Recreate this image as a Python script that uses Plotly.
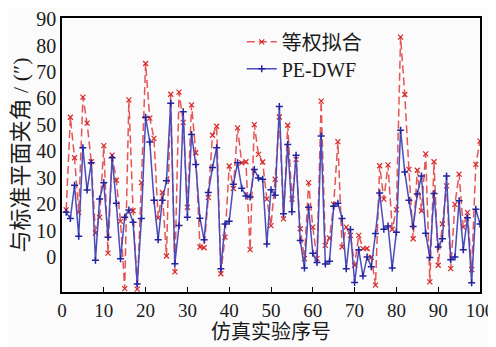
import plotly.graph_objects as go

runs = list(range(1, 101))

equal_weight = [
    17.9, 52.9, 37.6, 17.0, 60.5, 50.7, 36.1, 9.2, 15.1, 42.2,
    1.6, 38.6, 29.1, 13.6, -11.8, 59.5, 17.6, -12.0, 28.2, 73.2,
    52.6, 44.9, 14.9, 24.5, 0.5, 61.6, -5.5, 62.4, 51.0, 18.9,
    57.6, 39.5, 3.9, 3.6, 22.6, 46.1, 49.5, -6.2, 7.6, 34.5,
    26.0, 48.9, 35.7, 36.1, 2.9, 50.1, 38.9, 36.0, 22.0, 12.0,
    29.5, 53.0, 14.5, 49.9, 22.0, 37.0, 10.8, -0.5, 28.2, 11.4,
    -0.5, 59.0, 4.5, 7.3, 20.0, 43.7, 3.9, 11.4, 8.3, -3.0,
    8.3, 3.3, 3.4, 0.0, -10.5, 34.6, 22.0, 34.9, 10.6, 18.0,
    83.2, 61.5, 33.2, 7.0, 32.9, 17.6, 39.1, -9.3, 36.1, -3.0,
    12.6, 27.0, -4.3, 20.0, 31.4, 11.4, 17.0, -4.6, 35.1, 43.9,
]

pe_dwf = [
    17.0, 14.7, 27.2, 8.0, 41.4, 25.4, 35.7, -1.1, 22.0, 28.2,
    7.6, 37.6, 20.4, -0.5, 15.1, 17.9, 13.2, -10.1, 14.7, 52.9,
    43.6, 21.6, 6.6, 21.6, 28.9, 58.2, -2.4, 12.0, 55.0, 15.1,
    46.4, 35.1, 14.8, 6.6, 24.5, 33.9, 41.4, -4.3, 12.6, 13.6,
    27.6, 35.7, 26.1, 23.2, 22.8, 33.2, 30.0, 29.5, 5.0, 25.5,
    23.4, 57.0, 16.5, 42.6, 17.2, 38.6, 6.4, -4.0, 18.9, 1.5,
    -2.0, 45.8, -2.5, -1.5, 19.3, 20.4, 14.7, -4.3, 10.5, -9.5,
    2.9, -7.1, 0.1, -3.6, 9.0, 24.3, 10.6, 11.8, -4.0, 9.5,
    48.0, 32.2, 21.6, 11.6, 23.9, 30.7, 9.1, -0.1, 24.1, 3.9,
    7.0, 30.7, -0.9, 0.1, 21.4, 2.9, 14.9, -9.6, 18.2, 12.6,
]

x_ticks = [0, 10, 20, 30, 40, 50, 60, 70, 80, 90, 100]
y_labels = [0, 10, 20, 30, 40, 50, 60, 70, 80, 90]

y_lo, y_hi = -13.1, 90.4
# tick marks in the picture split the frame into 9 equal parts
tick_marks = [y_hi - k * (y_hi - y_lo) / 9 for k in range(1, 9)]

serif = "Liberation Serif, Noto Sans CJK SC, serif"

fig = go.Figure()
fig.add_trace(go.Scatter(
    x=runs, y=equal_weight, name="等权拟合", mode="lines+markers",
    legend="legend",
    line=dict(color="rgb(228,85,85)", width=1.5, dash="8px,4px"),
    marker=dict(symbol="x-thin", size=5, color="rgb(215,40,40)",
                line=dict(width=1.2, color="rgb(215,40,40)")),
))
fig.add_trace(go.Scatter(
    x=runs, y=pe_dwf, name="PE-DWF", mode="lines+markers",
    legend="legend2",
    line=dict(color="rgb(75,75,185)", width=1.5),
    marker=dict(symbol="cross-thin", size=5, color="rgb(35,35,160)",
                line=dict(width=1.5, color="rgb(35,35,160)")),
))

leg_common = dict(xanchor="left", yanchor="middle", bgcolor="rgba(0,0,0,0)",
                  font=dict(size=20, family=serif), itemwidth=30)

# the page body adds an 8px offset, so the figure is 8px smaller
fig.update_layout(
    width=488, height=339,
    margin=dict(l=54, r=16, t=10, b=55, autoexpand=False),
    paper_bgcolor="#fbfbfb", plot_bgcolor="#fbfbfb",
    font=dict(family=serif, color="#1a1a1a"),
    showlegend=True,
    legend=dict(x=0.43, y=0.913, **leg_common),
    legend2=dict(x=0.43, y=0.815, **leg_common),
    xaxis=dict(range=[0, 100], tickvals=x_ticks, ticks="inside", ticklen=5,
               tickwidth=1.2, tickcolor="black", automargin=False,
               ticklabeloverflow="allow",
               showline=True, linecolor="black", linewidth=1.6, mirror=True,
               showgrid=False, zeroline=False,
               tickfont=dict(size=19, family=serif),
               title=dict(text="仿真实验序号", font=dict(size=20, family=serif),
                          standoff=4)),
    yaxis=dict(range=[y_lo, y_hi], tickvals=y_labels, ticks="", automargin=False,
               ticklabeloverflow="allow",
               showline=True, linecolor="black", linewidth=1.6, mirror=True,
               showgrid=False, zeroline=False,
               tickfont=dict(size=20, family=serif),
               title=dict(text="与标准平面夹角 / (″)", font=dict(size=22, family=serif),
                          standoff=2)),
    yaxis2=dict(range=[y_lo, y_hi], overlaying="y", side="left", automargin=False,
                tickvals=tick_marks, ticks="inside", ticklen=5, tickwidth=1.2,
                tickcolor="black", showticklabels=False, showgrid=False,
                zeroline=False, showline=False),
)

fig.write_html("out.html")
